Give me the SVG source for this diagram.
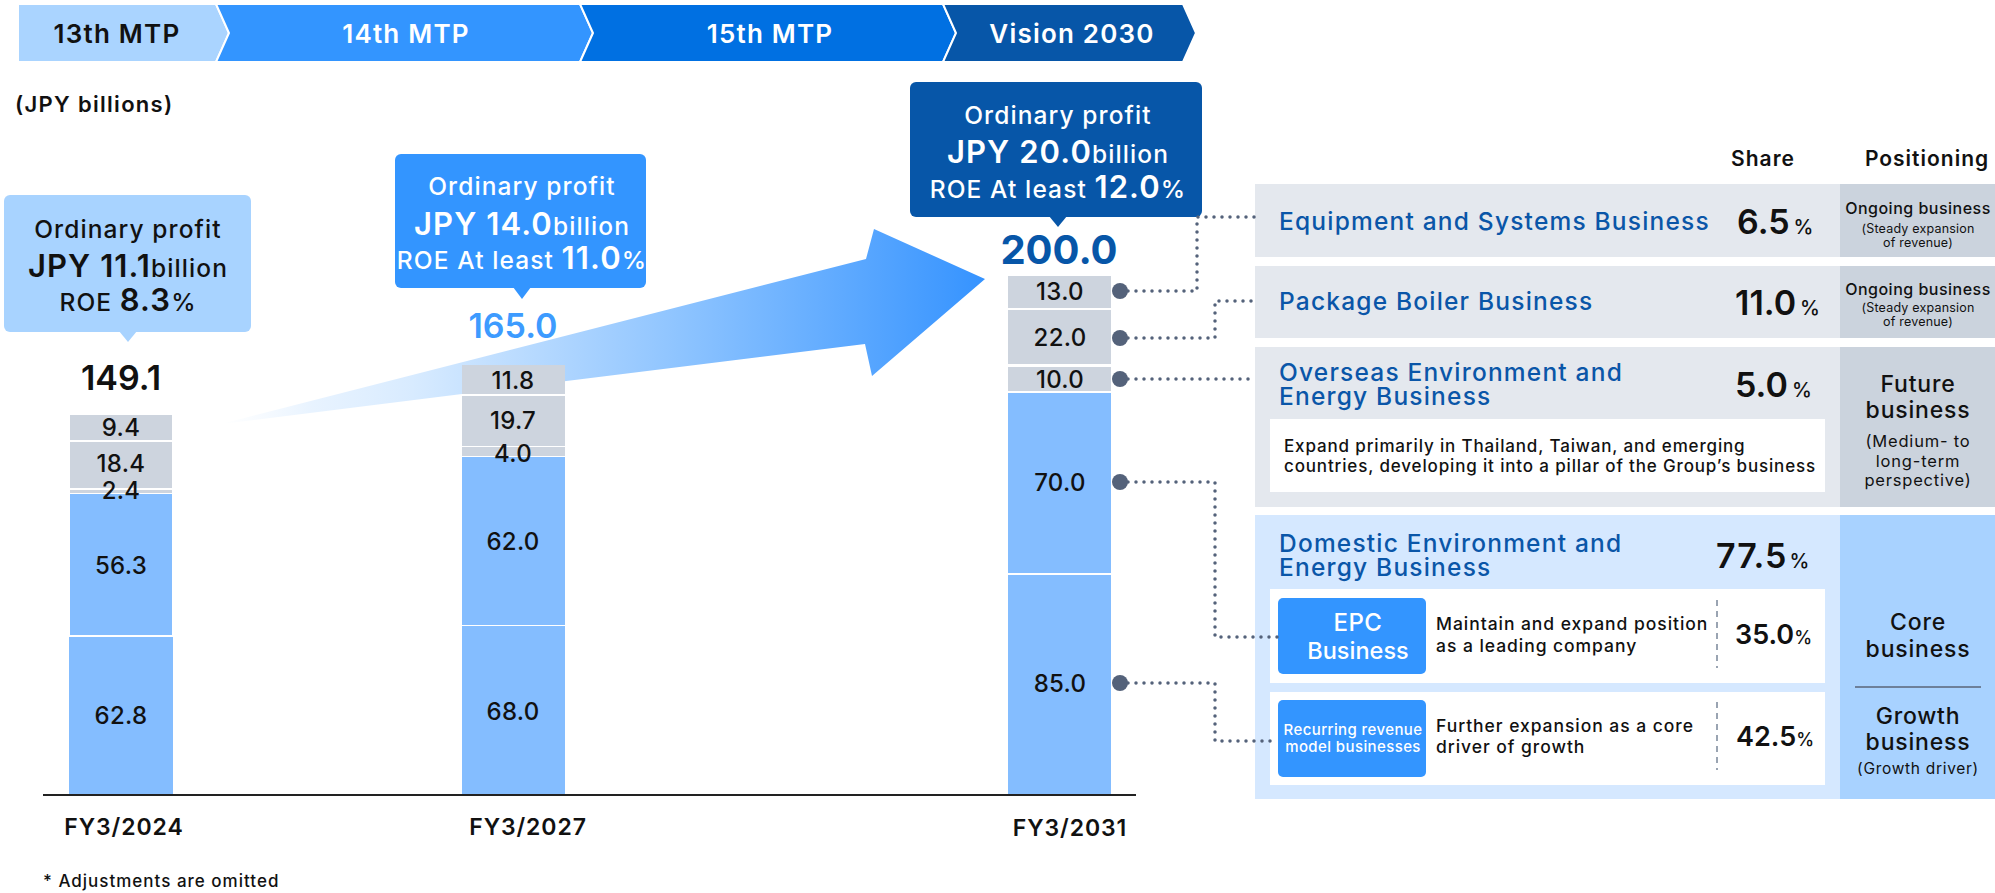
<svg xmlns="http://www.w3.org/2000/svg" width="1995" height="893" viewBox="0 0 1995 893">
<defs>
<linearGradient id="arrowGrad" gradientUnits="userSpaceOnUse" x1="221" y1="0" x2="985" y2="0">
<stop offset="0" stop-color="#EAF4FF" stop-opacity="0"/>
<stop offset="0.12" stop-color="#E2F0FF" stop-opacity="0.8"/>
<stop offset="0.25" stop-color="#D8EBFF"/>
<stop offset="0.6" stop-color="#8EC4FF"/>
<stop offset="1" stop-color="#3593FF"/>
</linearGradient>
</defs>
<style>
text{font-family:Inter,"Liberation Sans",sans-serif;}
.hdr{font-size:26px;font-weight:600;text-anchor:middle;letter-spacing:1.2px;}
.num{font-size:24px;font-weight:500;text-anchor:middle;fill:#111;letter-spacing:0.3px;}
.gray{fill:#CDD4DE;}
.blue{fill:#84BDFF;}
.co{font-size:24.5px;font-weight:500;text-anchor:middle;letter-spacing:1.1px;}
.big{font-size:31px;font-weight:600;}
.fy{font-size:23px;font-weight:600;text-anchor:middle;fill:#111;letter-spacing:0.9px;}
.title{font-size:24.5px;font-weight:500;fill:#0A56A8;letter-spacing:1.2px;}
.shr{font-size:34px;font-weight:600;fill:#111;}
.pct{font-size:20px;font-weight:500;fill:#111;}
.pos{text-anchor:middle;fill:#111;}
.desc{font-size:17px;font-weight:500;fill:#111;letter-spacing:0.85px;}
.desc2{font-size:17.5px;font-weight:500;fill:#111;letter-spacing:0.95px;}
.dot{fill:none;stroke:#54627A;stroke-width:3.5;stroke-dasharray:0 8;stroke-linecap:round;}
.pin{fill:#54627A;}
</style>
<rect width="1995" height="893" fill="#FFFFFF"/>

<g id="timeline">
<polygon points="18,4 216,4 229,33 216,62 18,62" fill="#AAD4FF" stroke="#FFFFFF" stroke-width="2"/>
<polygon points="216,4 580,4 593,33 580,62 216,62 229,33" fill="#3395FF" stroke="#FFFFFF" stroke-width="2"/>
<polygon points="580,4 943,4 956,33 943,62 580,62 593,33" fill="#0070E2" stroke="#FFFFFF" stroke-width="2"/>
<polygon points="943,4 1183,4 1196,33 1183,62 943,62 956,33" fill="#0756A8" stroke="#FFFFFF" stroke-width="2"/>
<text class="hdr" x="117" y="43" fill="#111">13th MTP</text>
<text class="hdr" x="406" y="43" fill="#FFFFFF">14th MTP</text>
<text class="hdr" x="770" y="43" fill="#FFFFFF">15th MTP</text>
<text class="hdr" x="1072" y="43" fill="#FFFFFF">Vision 2030</text>
</g>

<text x="15" y="112" font-size="22" font-weight="600" fill="#111" letter-spacing="1.3">(JPY billions)</text>

<g id="growth-arrow">
<polygon points="221,424 866,259 874,229 985,279 872,376 865,344" fill="url(#arrowGrad)"/>
</g>

<g id="callout-fy2024">
<rect x="4" y="195" width="247" height="137" rx="6" fill="#A8D3FF"/>
<polygon points="119,331 137,331 128,342" fill="#A8D3FF"/>
<text class="co" x="128" y="238" fill="#111">Ordinary profit</text>
<text class="co" x="128" y="277" fill="#111" letter-spacing="0.9"><tspan class="big">JPY 11.1</tspan>billion</text>
<text class="co" x="128" y="311" fill="#111" font-size="22.5" letter-spacing="1">ROE <tspan class="big" font-size="30">8.3</tspan>%</text>
</g>

<g id="callout-fy2027">
<rect x="395" y="154" width="251" height="134" rx="6" fill="#3395FF"/>
<polygon points="513,287 531,287 522,299" fill="#3395FF"/>
<text class="co" x="522" y="195" fill="#FFFFFF">Ordinary profit</text>
<text class="co" x="522" y="235" fill="#FFFFFF" letter-spacing="0.9"><tspan class="big">JPY 14.0</tspan>billion</text>
<text class="co" x="522" y="269" fill="#FFFFFF" font-size="22.5" letter-spacing="1">ROE At least <tspan class="big" font-size="30">11.0</tspan>%</text>
</g>

<g id="callout-fy2031">
<rect x="910" y="82" width="292" height="135" rx="6" fill="#0756A8"/>
<polygon points="1049,216 1067,216 1058,227" fill="#0756A8"/>
<text class="co" x="1058" y="124" fill="#FFFFFF">Ordinary profit</text>
<text class="co" x="1058" y="163" fill="#FFFFFF" letter-spacing="0.9"><tspan class="big">JPY 20.0</tspan>billion</text>
<text class="co" x="1058" y="198" fill="#FFFFFF" font-size="22.5" letter-spacing="0.8">ROE At least <tspan class="big" font-size="30">12.0</tspan>%</text>
</g>

<g id="bar-fy2024">
<rect class="gray" x="70" y="415" width="102" height="25"/>
<rect class="gray" x="70" y="442" width="102" height="46"/>
<rect class="gray" x="70" y="490" width="102" height="3"/>
<rect class="blue" x="70" y="494" width="102" height="141"/>
<rect class="blue" x="69" y="637" width="104" height="158"/>
<text class="num" x="121" y="436">9.4</text>
<text class="num" x="121" y="472">18.4</text>
<text class="num" x="121" y="499">2.4</text>
<text class="num" x="121" y="574">56.3</text>
<text class="num" x="121" y="724">62.8</text>
<text x="121" y="390" font-size="34" font-weight="600" text-anchor="middle" fill="#111">149.1</text>
<text class="fy" x="124" y="835">FY3/2024</text>
</g>

<g id="bar-fy2027">
<rect class="gray" x="462" y="365" width="103" height="29"/>
<rect class="gray" x="462" y="396" width="103" height="50"/>
<rect class="gray" x="462" y="447" width="103" height="9"/>
<rect class="blue" x="462" y="457" width="103" height="168"/>
<rect class="blue" x="462" y="626" width="103" height="169"/>
<text class="num" x="513" y="389">11.8</text>
<text class="num" x="513" y="429">19.7</text>
<text class="num" x="513" y="462">4.0</text>
<text class="num" x="513" y="550">62.0</text>
<text class="num" x="513" y="720">68.0</text>
<text x="513" y="338" font-size="34" font-weight="600" text-anchor="middle" fill="#3D9BFF">165.0</text>
<text class="fy" x="528" y="835">FY3/2027</text>
</g>

<g id="bar-fy2031">
<rect class="gray" x="1008" y="276" width="103" height="32"/>
<rect class="gray" x="1008" y="310" width="103" height="54"/>
<rect class="gray" x="1008" y="367" width="103" height="24"/>
<rect class="blue" x="1008" y="393" width="103" height="180"/>
<rect class="blue" x="1008" y="575" width="103" height="220"/>
<text class="num" x="1060" y="300">13.0</text>
<text class="num" x="1060" y="346">22.0</text>
<text class="num" x="1060" y="388">10.0</text>
<text class="num" x="1060" y="491">70.0</text>
<text class="num" x="1060" y="692">85.0</text>
<text x="1059" y="264" font-size="40" font-weight="700" text-anchor="middle" fill="#0756A8">200.0</text>
<text class="fy" x="1070" y="836">FY3/2031</text>
</g>

<line x1="43" y1="795" x2="1136" y2="795" stroke="#222" stroke-width="2"/>
<text x="43" y="887" font-size="17" font-weight="500" fill="#111" letter-spacing="1">* Adjustments are omitted</text>

<g id="headers">
<text x="1763" y="166" font-size="21" font-weight="600" text-anchor="middle" fill="#111" letter-spacing="1">Share</text>
<text x="1927" y="166" font-size="21" font-weight="600" text-anchor="middle" fill="#111" letter-spacing="1">Positioning</text>
</g>

<g id="row-equipment">
<rect x="1255" y="184" width="585" height="73" fill="#E4E8EE"/>
<rect x="1840" y="184" width="155" height="73" fill="#CBD3DD"/>
<text class="title" x="1279" y="230">Equipment and Systems Business</text>
<text class="shr" x="1737" y="234">6.5<tspan class="pct" dx="4">%</tspan></text>
<text class="pos" x="1918" y="214" font-size="16" font-weight="500" letter-spacing="0.5">Ongoing business</text>
<text class="pos" x="1918" y="233" font-size="12.5" letter-spacing="0.2">(Steady expansion<tspan x="1918" dy="14">of revenue)</tspan></text>
</g>

<g id="row-package">
<rect x="1255" y="266" width="585" height="72" fill="#E4E8EE"/>
<rect x="1840" y="266" width="155" height="72" fill="#CBD3DD"/>
<text class="title" x="1279" y="310">Package Boiler Business</text>
<text class="shr" x="1735" y="315">11.0<tspan class="pct" dx="4">%</tspan></text>
<text class="pos" x="1918" y="295" font-size="16" font-weight="500" letter-spacing="0.5">Ongoing business</text>
<text class="pos" x="1918" y="312" font-size="12.5" letter-spacing="0.2">(Steady expansion<tspan x="1918" dy="14">of revenue)</tspan></text>
</g>

<g id="row-overseas">
<rect x="1255" y="347" width="585" height="160" fill="#E4E8EE"/>
<rect x="1840" y="347" width="155" height="160" fill="#CBD3DD"/>
<text class="title" x="1279" y="381">Overseas Environment and<tspan x="1279" dy="24">Energy Business</tspan></text>
<text class="shr" x="1735" y="397">5.0<tspan class="pct" dx="4">%</tspan></text>
<rect x="1270" y="419" width="555" height="73" fill="#FFFFFF"/>
<text class="desc" x="1284" y="452">Expand primarily in Thailand, Taiwan, and emerging<tspan x="1284" dy="20">countries, developing it into a pillar of the Group’s business</tspan></text>
<text class="pos" x="1918" y="392" font-size="23" font-weight="500" letter-spacing="0.8">Future<tspan x="1918" dy="26">business</tspan></text>
<text class="pos" x="1918" y="447" font-size="16.5" letter-spacing="0.8">(Medium- to<tspan x="1918" dy="20">long-term</tspan><tspan x="1918" dy="19">perspective)</tspan></text>
</g>

<g id="row-domestic">
<rect x="1255" y="515" width="585" height="284" fill="#D5E8FF"/>
<rect x="1840" y="515" width="155" height="284" fill="#A8D2FF"/>
<text class="title" x="1279" y="552">Domestic Environment and<tspan x="1279" dy="24">Energy Business</tspan></text>
<text class="shr" x="1716" y="568" font-size="36" letter-spacing="1">77.5<tspan class="pct" dx="2" letter-spacing="0">%</tspan></text>
<rect x="1270" y="589" width="555" height="94" fill="#FFFFFF"/>
<rect x="1270" y="692" width="555" height="93" fill="#FFFFFF"/>
<line x1="1717" y1="600" x2="1717" y2="668" stroke="#7A8699" stroke-width="1.5" stroke-dasharray="6 5"/>
<line x1="1717" y1="702" x2="1717" y2="770" stroke="#7A8699" stroke-width="1.5" stroke-dasharray="6 5"/>
<text class="desc2" x="1436" y="630">Maintain and expand position<tspan x="1436" dy="22">as a leading company</tspan></text>
<text class="desc2" x="1436" y="732">Further expansion as a core<tspan x="1436" dy="21">driver of growth</tspan></text>
<text x="1735" y="644" font-size="27" font-weight="600" fill="#111">35.0<tspan font-size="18" font-weight="500">%</tspan></text>
<text x="1736" y="746" font-size="27" font-weight="600" fill="#111">42.5<tspan font-size="18" font-weight="500">%</tspan></text>
<text class="pos" x="1918" y="630" font-size="23" font-weight="500" letter-spacing="0.8">Core<tspan x="1918" dy="27">business</tspan></text>
<line x1="1855" y1="687" x2="1981" y2="687" stroke="#5A6478" stroke-width="1.5"/>
<text class="pos" x="1918" y="724" font-size="23" font-weight="500" letter-spacing="0.8">Growth<tspan x="1918" dy="26">business</tspan></text>
<text class="pos" x="1918" y="774" font-size="15.5" letter-spacing="0.7">(Growth driver)</text>
</g>

<g id="epc-business">
<rect x="1278" y="598" width="148" height="76" rx="5" fill="#3395FF"/>
<text x="1358" y="631" font-size="24" font-weight="500" text-anchor="middle" fill="#FFFFFF" letter-spacing="0.5">EPC<tspan x="1358" dy="28" font-size="23.5" letter-spacing="0">Business</tspan></text>
</g>

<g id="recurring-business">
<rect x="1278" y="700" width="148" height="77" rx="5" fill="#3395FF"/>
<text x="1353" y="735" font-size="15" font-weight="500" text-anchor="middle" fill="#FFFFFF" letter-spacing="0.4">Recurring revenue<tspan x="1353" dy="17">model businesses</tspan></text>
</g>

<g id="connectors">
<path class="dot" d="M1128,291 H1197 V217 H1255"/>
<path class="dot" d="M1128,338 H1215 V301 H1255"/>
<path class="dot" d="M1128,379 H1255"/>
<path class="dot" d="M1128,482 H1215 V637 H1278"/>
<path class="dot" d="M1128,683 H1215 V741 H1278"/>
<circle class="pin" cx="1120" cy="291" r="8"/>
<circle class="pin" cx="1120" cy="338" r="8"/>
<circle class="pin" cx="1120" cy="379" r="8"/>
<circle class="pin" cx="1120" cy="482" r="8"/>
<circle class="pin" cx="1120" cy="683" r="8"/>
</g>
</svg>
